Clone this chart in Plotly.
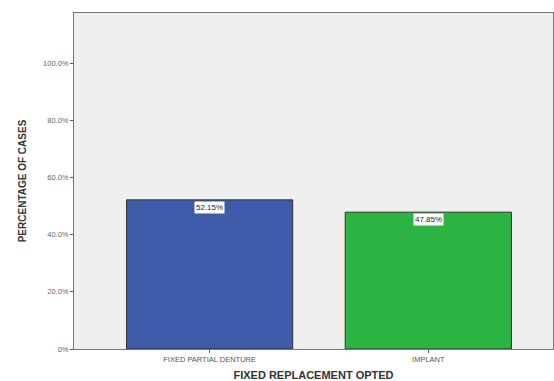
import plotly.graph_objects as go

categories = ["FIXED PARTIAL DENTURE", "IMPLANT"]
values = [52.15, 47.85]
labels = ["52.15%", "47.85%"]
colors = ["#3E5BA9", "#2CB443"]
tick_vals = [0, 20, 40, 60, 80, 100]
tick_text = ["0%", "20.0%", "40.0%", "60.0%", "80.0%", "100.0%"]

font_fam = "Arial, Liberation Sans"

fig = go.Figure()
fig.add_trace(go.Bar(
    x=[0, 1], y=values, marker=dict(color=colors, line=dict(color="#333333", width=1)),
    width=0.76, showlegend=False,
))
for i, (v, t) in enumerate(zip(values, labels)):
    fig.add_annotation(x=i, y=v, text=t, showarrow=False, yanchor="top", yshift=-1,
                       bgcolor="white", borderpad=1,
                       font=dict(family=font_fam, size=8, color="#222222"))

fig.update_layout(
    width=554, height=381,
    margin=dict(l=74, r=1, t=13, b=32),
    paper_bgcolor="white", plot_bgcolor="#EFEFEF",
    xaxis=dict(range=[-0.62, 1.57], tickvals=[0, 1], ticktext=categories,
               ticks="outside", ticklen=3, tickcolor="#555555",
               tickfont=dict(family=font_fam, size=7.5, color="#555555"),
               showline=True, linecolor="#777777", linewidth=1, mirror=True,
               showgrid=False, zeroline=False,
               title=dict(text="<b>FIXED REPLACEMENT OPTED</b>", standoff=9,
                          font=dict(family=font_fam, size=11, color="#333333"))),
    yaxis=dict(range=[0, 117.5], tickvals=tick_vals, ticktext=tick_text,
               ticks="outside", ticklen=3, tickcolor="#555555",
               tickfont=dict(family=font_fam, size=7.5, color="#666666"),
               showline=True, linecolor="#777777", linewidth=1, mirror=True,
               showgrid=False, zeroline=False,
               title=dict(text="<b>PERCENTAGE OF CASES</b>", standoff=14,
                          font=dict(family=font_fam, size=10, color="#333333"))),
)
fig.write_html("out.html")
